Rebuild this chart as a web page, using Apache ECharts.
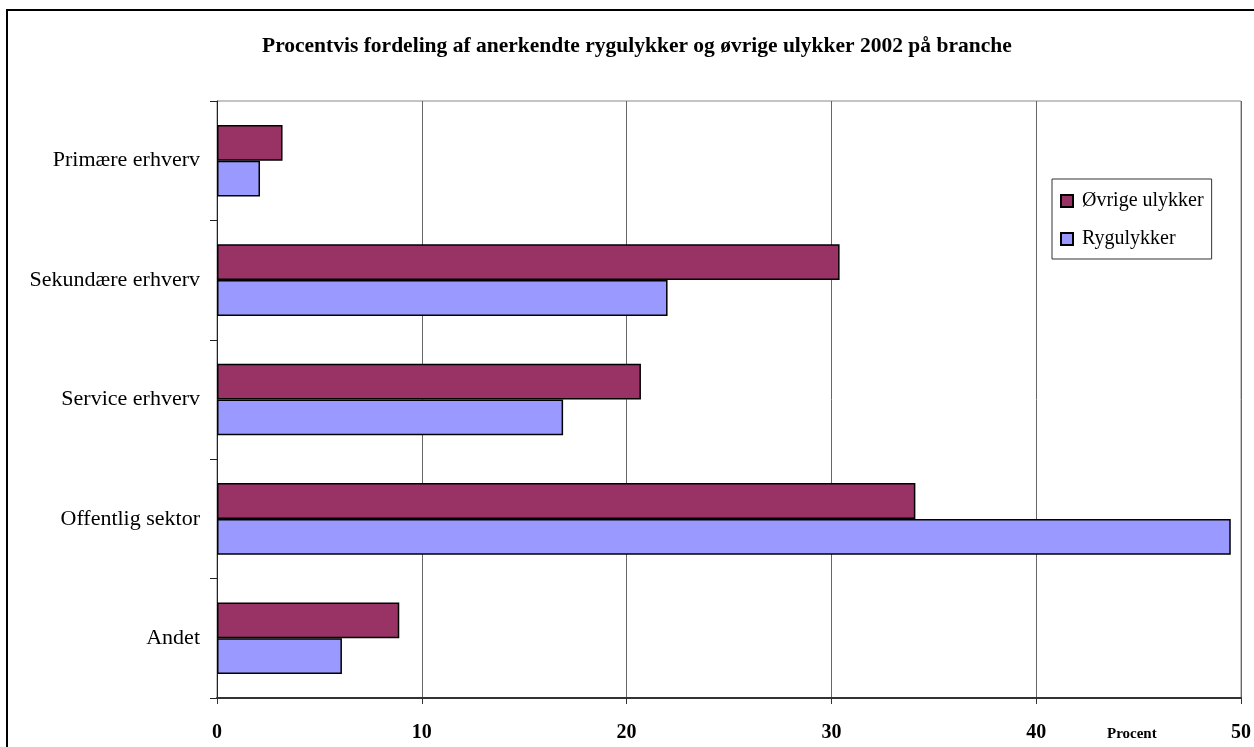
<!DOCTYPE html>
<html>
<head>
<meta charset="utf-8">
<script src="https://cdn.jsdelivr.net/npm/echarts@6/dist/echarts.min.js"></script>
<style>html,body{margin:0;padding:0;background:#fff}#c{width:1254px;height:747px}</style>
</head>
<body>
<div id="c"></div>
<script>
const categories = ['Primære erhverv', 'Sekundære erhverv', 'Service erhverv', 'Offentlig sektor', 'Andet'];
const ovrige = [3.2, 30.4, 20.7, 34.1, 8.9];
const ryg = [2.1, 22.0, 16.9, 49.5, 6.1];
const seriesNames = ['Øvrige ulykker', 'Rygulykker'];
const xTicks = [0, 10, 20, 30, 40, 50];
const titleText = 'Procentvis fordeling af anerkendte rygulykker og øvrige ulykker 2002 på branche';
const axisName = 'Procent';

const serif = '"Liberation Serif", "Times New Roman", serif';
const chart = echarts.init(document.getElementById('c'));
chart.setOption({
  animation: false,
  backgroundColor: '#fff',
  title: {
    text: titleText,
    left: 262,
    top: 35,
    padding: 0,
    textStyle: { fontFamily: serif, fontWeight: 'bold', fontSize: 21.5, color: '#000' }
  },
  legend: {
    orient: 'vertical',
    left: 1052,
    top: 179,
    width: 170,
    padding: [12, 8, 10, 8],
    itemGap: 18,
    itemWidth: 12,
    itemHeight: 12,
    icon: 'rect',
    borderColor: '#333',
    borderWidth: 1,
    backgroundColor: '#fff',
    data: seriesNames,
    textStyle: { fontFamily: serif, fontSize: 20, color: '#000', padding: [0, 0, 0, 4] }
  },
  grid: {
    left: 217, right: 13, top: 101, bottom: 49,
    show: true, borderColor: '#888', borderWidth: 1, backgroundColor: '#fff'
  },
  xAxis: {
    type: 'value',
    min: xTicks[0],
    max: xTicks[xTicks.length - 1],
    interval: 10,
    axisLine: { show: true, lineStyle: { color: '#333', width: 2 } },
    axisTick: { show: true, length: 6, lineStyle: { color: '#333' } },
    axisLabel: { margin: 25, fontFamily: serif, fontWeight: 'bold', fontSize: 20, color: '#000' },
    splitLine: { show: true, lineStyle: { color: '#666', width: 1 } }
  },
  yAxis: {
    type: 'category',
    data: categories,
    inverse: true,
    axisLine: { show: true, lineStyle: { color: '#222', width: 1 } },
    axisTick: { show: true, length: 7, lineStyle: { color: '#222' } },
    axisLabel: { margin: 17, fontFamily: serif, fontSize: 22, color: '#000' },
    splitLine: { show: false }
  },
  series: [
    {
      name: seriesNames[0], type: 'bar', data: ovrige,
      barGap: '0%', barCategoryGap: '40%',
      itemStyle: { color: '#993366', borderColor: '#000', borderWidth: 1.5 }
    },
    {
      name: seriesNames[1], type: 'bar', data: ryg,
      barGap: '0%', barCategoryGap: '40%',
      itemStyle: { color: '#9999FF', borderColor: '#000', borderWidth: 1.5 }
    }
  ],
  graphic: [
    {
      type: 'rect', silent: true, z: 100,
      shape: { x: 7, y: 10, width: 1300, height: 800 },
      style: { fill: 'none', stroke: '#000', lineWidth: 2 }
    },
    {
      type: 'text', left: 1107, top: 727, z: 100,
      style: { text: axisName, font: 'bold 15px ' + serif, fill: '#000' }
    }
  ]
});
</script>
</body>
</html>
